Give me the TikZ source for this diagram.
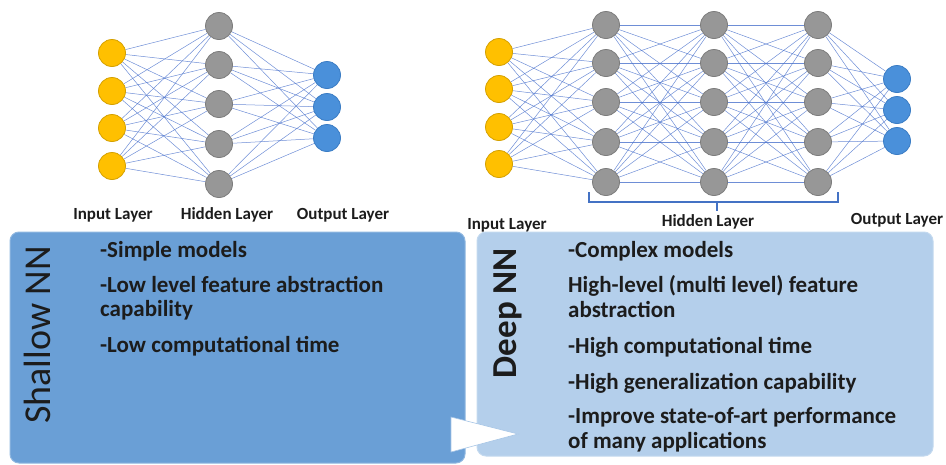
\documentclass[tikz,border=0pt]{standalone}
\usepackage{fontspec}
\setmainfont{Carlito}
\usetikzlibrary{backgrounds}
\definecolor{inY}{HTML}{FFC000}
\definecolor{inYd}{HTML}{D4A000}
\definecolor{hidG}{HTML}{979797}
\definecolor{hidGd}{HTML}{7C7C7C}
\definecolor{outB}{HTML}{4A90DA}
\definecolor{outBd}{HTML}{3A7CC4}
\definecolor{edgeB}{HTML}{4A72CC}
\definecolor{shallowBox}{HTML}{6A9FD6}
\definecolor{deepBox}{HTML}{B4CFEB}
\definecolor{txt}{HTML}{1C1C1C}
\definecolor{brk}{HTML}{4472C4}
\begin{document}
\begin{tikzpicture}[x=1pt,y=-1pt,
  neuron/.style={circle,minimum size=27pt,inner sep=0pt,line width=0.8pt},
  inn/.style={neuron,fill=inY,draw=inYd},
  hid/.style={neuron,fill=hidG,draw=hidGd},
  outn/.style={neuron,fill=outB,draw=outBd},
  wire/.style={draw=edgeB,line width=0.5pt,opacity=0.8},
  layerlbl/.style={font=\fontsize{17}{20}\selectfont\bfseries,text=txt,inner sep=0pt},
  bullet/.style={font=\fontsize{23}{25}\selectfont\bfseries,text=txt,anchor=base west,inner sep=0pt},
  nnbox/.style={rounded corners=9pt,line width=1pt}]
\useasboundingbox (0,0) rectangle (946,464);

% ---------- Shallow network ----------
\foreach \y [count=\i] in {53,91,128,166} \node[inn] (si\i) at (112,\y) {};
\foreach \y [count=\i] in {26,65,104,144,184} \node[hid] (sh\i) at (219,\y) {};
\foreach \y [count=\i] in {75,107,138} \node[outn] (so\i) at (327,\y) {};
\begin{scope}[on background layer]
\foreach \a in {1,...,4} \foreach \b in {1,...,5} \draw[wire] (si\a) -- (sh\b);
\foreach \a in {1,...,5} \foreach \b in {1,...,3} \draw[wire] (sh\a) -- (so\b);
\end{scope}
\node[layerlbl] (sil) at (113,215) {Input Layer};
\node[layerlbl] (shl) at (227,215) {Hidden Layer};
\node[layerlbl] (sol) at (343,215) {Output Layer};

% ---------- Deep network ----------
\foreach \y [count=\i] in {52,89,127,164} \node[inn] (di\i) at (499,\y) {};
\foreach \x [count=\k] in {606,714,818}
  \foreach \y [count=\i] in {25,63,102,142,182} \node[hid] (dh\k\i) at (\x,\y) {};
\foreach \y [count=\i] in {79,110,141} \node[outn] (do\i) at (897,\y) {};
\begin{scope}[on background layer]
\foreach \a in {1,...,4} \foreach \b in {1,...,5} \draw[wire] (di\a) -- (dh1\b);
\foreach \a in {1,...,5} \foreach \b in {1,...,5} {\draw[wire] (dh1\a) -- (dh2\b); \draw[wire] (dh2\a) -- (dh3\b);}
\foreach \a in {1,...,5} \foreach \b in {1,...,3} \draw[wire] (dh3\a) -- (do\b);
\end{scope}
\coordinate (bl) at (589,192);
\coordinate (br) at (838,192);
\coordinate (bm) at (717,202);
\draw[brk,line width=1.6pt] (bl) -- (589,202) -- (838,202) -- (br);
\draw[brk,line width=1.6pt] (bm) -- (717,211);
\node[layerlbl] (dil) at (507,225) {Input Layer};
\node[layerlbl] (dhl) at (708,222) {Hidden Layer};
\node[layerlbl] (dol) at (897,220) {Output Layer};

% ---------- Boxes ----------
\draw[nnbox,fill=shallowBox,draw=shallowBox!75!white] (10,232) rectangle (465,463);
\draw[nnbox,fill=deepBox,draw=deepBox!80!white] (477,232) rectangle (933,456);
\draw[fill=white,draw=shallowBox!60!white,line width=0.6pt] (451,417) -- (518,434) -- (451,452) -- cycle;

\node[rotate=90,font=\fontsize{38}{40}\selectfont,text=txt,inner sep=0pt] (shallow) at (37.5,335) {Shallow NN};
\node[rotate=90,font=\fontsize{35}{38}\selectfont\bfseries,text=txt,inner sep=0pt] (deep) at (508,313) {Deep NN};

\node[bullet] (s1) at (100,257) {-Simple models};
\node[bullet] (s2) at (100,292) {-Low level feature abstraction};
\node[bullet] (s3) at (100,316) {capability};
\node[bullet] (s4) at (100,352) {-Low computational time};

\node[bullet] (d1) at (568,257) {-Complex models};
\node[bullet] (d2) at (568,292) {High-level (multi level) feature};
\node[bullet] (d3) at (568,317) {abstraction};
\node[bullet] (d4) at (568,353) {-High computational time};
\node[bullet] (d5) at (568,389) {-High generalization capability};
\node[bullet] (d6) at (568,423) {-Improve state-of-art performance};
\node[bullet] (d7) at (568,448) {of many applications};
\end{tikzpicture}
\end{document}
